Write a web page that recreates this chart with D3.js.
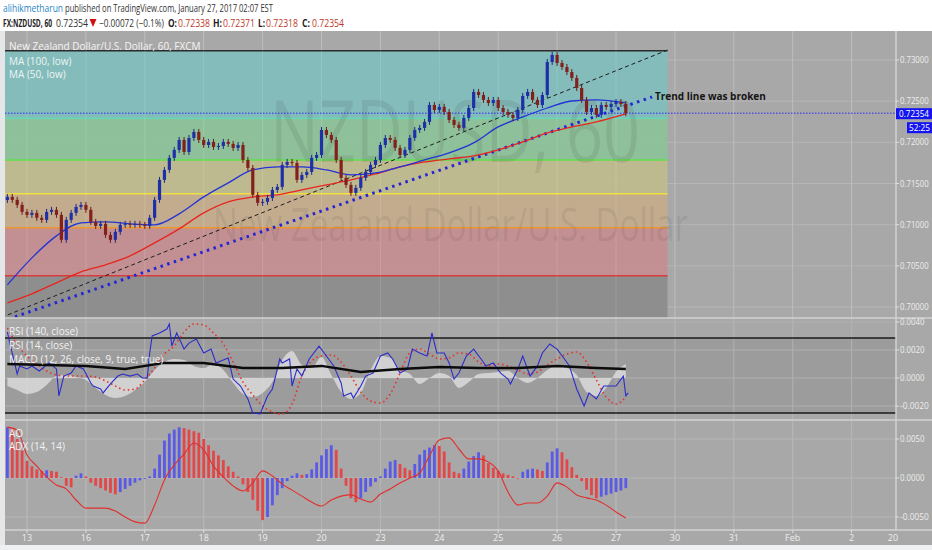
<!DOCTYPE html>
<html>
<head>
<meta charset="utf-8">
<script src="https://cdn.jsdelivr.net/npm/d3@7"></script>
<style>
  body { margin: 0; background: #fff; }
  svg { display: block; font-family: "Open Sans", sans-serif; }
</style>
</head>
<body>
<script>
// ---- data (2-hour closes, hour index = 2 * bar) ----
const firstOpen = 0.71300;
const closes = [
  0.71337, 0.71301, 0.71240, 0.71155, 0.71119, 0.71143, 0.71083, 0.71058, 0.71155, 0.71180,
  0.71119, 0.70816, 0.71058, 0.71143, 0.71216, 0.71240, 0.71180, 0.71034, 0.70985, 0.71010,
  0.70876, 0.70816, 0.70913, 0.70998, 0.71010, 0.70998, 0.71010, 0.70998, 0.70985, 0.71083,
  0.71301, 0.71544, 0.71665, 0.71811, 0.71908, 0.72029, 0.71883, 0.72053, 0.72126, 0.72029,
  0.71968, 0.72005, 0.71944, 0.71956, 0.72005, 0.71981, 0.71932, 0.71968, 0.71786, 0.71689,
  0.71362, 0.71265, 0.71277, 0.71325, 0.71422, 0.71459, 0.71726, 0.71762, 0.71750, 0.71544,
  0.71604, 0.71641, 0.71811, 0.71847, 0.72150, 0.72090, 0.72029, 0.71786, 0.71568, 0.71483,
  0.71386, 0.71447, 0.71568, 0.71641, 0.71726, 0.71786, 0.71968, 0.72053, 0.72029, 0.71932,
  0.71847, 0.71908, 0.72053, 0.72150, 0.72175, 0.72248, 0.72454, 0.72393, 0.72430, 0.72369,
  0.72272, 0.72211, 0.72175, 0.72296, 0.72417, 0.72612, 0.72575, 0.72515, 0.72478, 0.72515,
  0.72417, 0.72369, 0.72333, 0.72296, 0.72393, 0.72563, 0.72612, 0.72515, 0.72454, 0.72575,
  0.72976, 0.73061, 0.72964, 0.72915, 0.72854, 0.72782, 0.72660, 0.72515, 0.72369, 0.72417,
  0.72333, 0.72454, 0.72430, 0.72466, 0.72490, 0.72466, 0.72354
];

// moving averages, sampled at these bar numbers
const maBars = [0, 5, 10, 15, 20, 25, 30, 35, 40, 45, 50, 55, 60, 65, 70, 75, 80, 85, 90, 95, 100, 105, 110, 115, 120, 126];
const ma50 = [0.70269, 0.70597, 0.70864, 0.71022, 0.71034, 0.71010, 0.70998, 0.71131, 0.71337, 0.71507,
  0.71665, 0.71701, 0.71701, 0.71665, 0.71604, 0.71629, 0.71701, 0.71786, 0.71871, 0.71993,
  0.72187, 0.72308, 0.72417, 0.72502, 0.72515, 0.72478];
const ma100 = [0.70051, 0.70160, 0.70294, 0.70427, 0.70512, 0.70621, 0.70779, 0.70949, 0.71143, 0.71277,
  0.71337, 0.71362, 0.71422, 0.71483, 0.71544, 0.71616, 0.71701, 0.71762, 0.71799, 0.71835,
  0.71908, 0.72005, 0.72114, 0.72187, 0.72248, 0.72345];

// RSI(14): hour index and value
const rsiHours = [0, 1, 4, 5, 8, 10, 13, 17, 20, 21, 23, 26, 28, 31, 34, 35, 38, 39, 42, 45,
  47, 50, 53, 55, 57, 58, 59, 62, 65, 66, 67, 69, 72, 74, 77, 80, 83, 85, 90, 92,
  95, 98, 100, 103, 106, 108, 111, 112, 115, 116, 118, 120, 123, 127, 130, 133, 136, 137, 140, 141,
  144, 146, 149, 152, 155, 157, 160, 163, 165, 168, 171, 173, 175, 178, 180, 182, 184, 187, 190, 193,
  195, 198, 201, 204, 205, 208, 210, 213, 216, 218, 221, 224, 227, 229, 232, 235, 237, 240, 243, 246,
  248, 251, 252, 253];
const rsi14 = [73.2, 67.3, 50.8, 55.1, 53.5, 55.1, 52.4, 56.7, 53.5, 39.1, 49.7, 51.3, 55.1, 53.5, 46.0, 44.4, 42.8, 40.7, 45.5, 49.7,
  50.8, 49.7, 50.8, 48.7, 48.7, 62.0, 71.1, 72.7, 74.8, 77.5, 65.7, 72.7, 64.1, 67.3, 69.5, 62.0, 64.1, 56.7, 59.3, 48.1,
  44.4, 37.5, 30.0, 29.5, 39.1, 42.8, 58.8, 56.7, 58.8, 44.4, 53.5, 49.7, 58.8, 65.7, 60.4, 55.1, 46.0, 39.1, 40.7, 38.0,
  44.4, 49.7, 51.3, 60.4, 62.0, 58.8, 51.3, 53.5, 64.1, 62.0, 60.4, 72.7, 62.0, 62.0, 56.7, 48.1, 51.3, 60.4, 64.1, 58.8,
  55.1, 56.7, 51.3, 48.1, 45.5, 53.5, 60.4, 49.7, 55.1, 62.0, 66.8, 64.1, 58.8, 55.1, 42.8, 33.7, 40.7, 37.5, 44.4, 44.4,
  44.4, 49.7, 39.1, 40.7];

// 4-hourly MACD / ADX samples (hour = 4 * k)
const macdHist = [-0.00057, -0.00086, -0.00114, -0.00100, -0.00050, 0.00014, 0.00021, 0.00007, -0.00014, -0.00071,
  -0.00121, -0.00143, -0.00129, -0.00086, -0.00029, 0.00057, 0.00114, 0.00136, 0.00129, 0.00086,
  0.00071, 0.00100, 0.00057, -0.00036, -0.00114, -0.00136, -0.00107, -0.00029, 0.00129, 0.00193,
  0.00093, 0.00071, 0.00150, 0.00021, -0.00100, -0.00150, -0.00107, 0.00057, 0.00157, 0.00143,
  0.00057, 0.00029, -0.00043, 0.00000, 0.00036, 0.00014, -0.00071, -0.00029, 0.00029, 0.00036,
  0.00043, 0.00050, 0.00000, -0.00036, 0.00000, 0.00057, 0.00086, 0.00071, 0.00021, -0.00100,
  -0.00129, -0.00071, 0.00043, 0.00100];
const macdSignal = [0.00357, 0.00236, 0.00157, 0.00100, 0.00050, 0.00021, 0.00014, 0.00014, 0.00014, 0.00007,
  -0.00021, -0.00057, -0.00086, -0.00079, -0.00014, 0.00071, 0.00171, 0.00229, 0.00329, 0.00386,
  0.00379, 0.00321, 0.00243, 0.00114, -0.00029, -0.00121, -0.00200, -0.00243, -0.00257, -0.00186,
  0.00014, 0.00121, 0.00157, 0.00164, 0.00114, 0.00014, -0.00100, -0.00164, -0.00179, -0.00114,
  0.00036, 0.00179, 0.00207, 0.00171, 0.00136, 0.00143, 0.00179, 0.00171, 0.00114, 0.00086,
  0.00100, 0.00086, 0.00057, 0.00029, 0.00043, 0.00093, 0.00136, 0.00171, 0.00186, 0.00114,
  -0.00014, -0.00136, -0.00186, -0.00136];
const adx = [44.3, 43.3, 35.0, 31.3, 27.7, 25.0, 23.7, 20.0, 17.3, 17.3,
  17.3, 16.3, 14.3, 12.7, 12.3, 18.3, 26.7, 31.7, 35.3, 39.0,
  36.7, 31.3, 27.7, 24.7, 23.0, 25.7, 29.7, 28.0, 25.3, 23.3,
  21.3, 19.3, 18.0, 20.0, 21.3, 21.7, 20.3, 19.3, 22.0, 23.7,
  25.7, 27.3, 29.0, 34.7, 40.0, 40.7, 37.0, 33.7, 33.7, 32.7,
  29.7, 22.7, 18.3, 19.0, 19.0, 21.3, 25.7, 24.3, 21.7, 20.7,
  20.0, 18.3, 16.0, 14.0];

// RSI(140) at 16-hour steps
const rsi140Hours = [0, 16, 32, 48, 64, 80, 96, 112, 128, 144, 160, 176, 192, 208, 224, 240, 252];
const rsi140 = [56.1, 55.6, 55.1, 53.5, 56.7, 56.7, 54.0, 54.0, 55.1, 51.9, 53.5, 54.5, 54.0, 54.0, 55.1, 54.0, 53.5];

// awesome oscillator, one value per 2-hour bar
const ao = [
  0.0065, 0.0063, 0.0050, 0.0035, 0.0022, 0.0015, 0.0011, 0.0009, 0.0010, 0.0009,
  0.0008, 0.0001, -0.0010, -0.0012, 0.0003, 0.0006, 0.0002, -0.0006, -0.0010, -0.0013,
  -0.0016, -0.0019, -0.0021, -0.0018, -0.0014, -0.0010, -0.0006, -0.0003, -0.0001, 0.0002,
  0.0012, 0.0030, 0.0048, 0.0057, 0.0062, 0.0065, 0.0064, 0.0062, 0.0060, 0.0058,
  0.0050, 0.0042, 0.0035, 0.0029, 0.0023, 0.0015, 0.0008, 0.0002, -0.0008, -0.0018,
  -0.0028, -0.0042, -0.0054, -0.0050, -0.0035, -0.0022, -0.0013, -0.0004, 0.0003, 0.0006,
  0.0004, 0.0005, 0.0011, 0.0020, 0.0029, 0.0037, 0.0042, 0.0036, 0.0012, -0.0010,
  -0.0026, -0.0031, -0.0026, -0.0018, -0.0011, -0.0005, 0.0002, 0.0012, 0.0021, 0.0023,
  0.0018, 0.0013, 0.0010, 0.0018, 0.0030, 0.0036, 0.0039, 0.0042, 0.0041, 0.0034,
  0.0020, 0.0008, 0.0006, 0.0012, 0.0021, 0.0028, 0.0033, 0.0029, 0.0019, 0.0013,
  0.0009, 0.0006, 0.0004, 0.0002, 0.0000, 0.0008, 0.0011, 0.0012, 0.0011, 0.0009,
  0.0020, 0.0034, 0.0038, 0.0033, 0.0024, 0.0014, 0.0004, -0.0004, -0.0015, -0.0022,
  -0.0026, -0.0024, -0.0022, -0.0020, -0.0018, -0.0016, -0.0013
];

// fibonacci retracement (0 at top)
const fibHigh = 0.73113, fibLow = 0.69635;
const fibHours = [-1, 269];
const fibLevels = [0, 0.236, 0.382, 0.5, 0.618, 0.786, 1];
const fibLineColors = ['#2b2b2b', '#66d8b4', '#5ee04a', '#f2e040', '#f0952e', '#d83c3c', '#777'];
const fibBandColors = ['#80bebc', '#8cc398', '#c0bc8e', '#c6ad8c', '#c48e90', '#8c8c8c'];

// drawn trend lines [hour, price]
const trendDashed = [[0.2, 0.69905], [269, 0.73121]];
const trendDotted = [[3.1, 0.69881], [262.7, 0.72551]];
const trendNote = 'Trend line was broken';

const lastPrice = 0.72354;
const countdown = '52:25';

// axes
const dayLabels = ['13', '16', '17', '18', '19', '20', '23', '24', '25', '26', '27', '30', '31', 'Feb', '2'];
const dayHours = [8, 32, 56, 80, 104, 128, 152, 176, 200, 224, 248, 272, 296, 320, 344];
const priceTicks = [0.730, 0.725, 0.720, 0.715, 0.710, 0.705, 0.700];
const macdTicks = [0.004, 0.002, 0, -0.002];
const aoTicks = [0.005, 0, -0.005];

// ---- layout ----
const W = 932, H = 550;
const L = 5, R = 896;
const mainTop = 31, mainBot = 318, p1Bot = 420, p2Bot = 530, axisBot = 545;

const x = d3.scaleLinear().domain([8, 248]).range([27, 616]);
const yP = d3.scaleLinear().domain([0.700, 0.730]).range([307, 60]);
const yMacd = d3.scaleLinear().domain([-0.002, 0.004]).range([406, 322]);
const yRsi = d3.scaleLinear().domain([30, 70]).range([413, 338]);
const yAo = d3.scaleLinear().domain([-0.005, 0.005]).range([517, 439]);
const yAdx = d3.scaleLinear().domain([0, 50]).range([560, 410]);

const svg = d3.select('body').append('svg').attr('width', W).attr('height', H);

svg.append('rect').attr('x', 0).attr('y', mainTop).attr('width', W).attr('height', axisBot - mainTop).attr('fill', '#a8a8a8');
svg.append('rect').attr('x', 0).attr('y', mainTop).attr('width', L).attr('height', axisBot - mainTop).attr('fill', '#e4e6e8');
svg.append('rect').attr('x', 0).attr('y', axisBot).attr('width', W).attr('height', H - axisBot).attr('fill', '#eef0f2');

const defs = svg.append('defs');
[['cMain', mainTop, mainBot], ['cP1', mainBot, p1Bot], ['cP2', p1Bot, p2Bot]].forEach(([id, t, b]) => {
  defs.append('clipPath').attr('id', id).append('rect')
    .attr('x', L).attr('y', t).attr('width', R - L).attr('height', b - t);
});

// ---- header ----
const head = svg.append('g').attr('font-size', 10.5);
const headSegs = [
  ['alihikmetharun', 3, 63, 12, '#2a86c8', 'normal'],
  ['published on TradingView.com, January 27, 2017 02:07 EST', 65, 273, 12, '#333', 'normal'],
  ['FX:NZDUSD, 60', 3, 52, 27, '#222', 'bold'],
  ['0.72354', 56, 88, 27, '#333', 'normal'],
  ['−0.00072 (−0.1%)', 99, 164, 27, '#333', 'normal'],
  ['O:', 168, 177, 27, '#222', 'bold'],
  ['0.72338', 178, 210, 27, '#c0392b', 'normal'],
  ['H:', 213, 222, 27, '#222', 'bold'],
  ['0.72371', 223, 255, 27, '#c0392b', 'normal'],
  ['L:', 258, 265, 27, '#222', 'bold'],
  ['0.72318', 266, 298, 27, '#c0392b', 'normal'],
  ['C:', 302, 310, 27, '#222', 'bold'],
  ['0.72354', 312, 344, 27, '#c0392b', 'normal']
];
head.selectAll('text').data(headSegs).enter().append('text')
  .attr('x', d => d[1]).attr('y', d => d[3])
  .attr('textLength', d => d[2] - d[1]).attr('lengthAdjust', 'spacingAndGlyphs')
  .attr('fill', d => d[4]).attr('font-weight', d => d[5])
  .text(d => d[0]);
head.append('path').attr('d', 'M89.5,19 L96.5,19 L93,27 Z').attr('fill', '#d01010');

// ---- grids ----
const grid = svg.append('g').attr('stroke', '#b6b6b6').attr('stroke-width', 1);
grid.selectAll('line.v').data(dayHours).enter().append('line')
  .attr('x1', d => x(d)).attr('x2', d => x(d)).attr('y1', mainTop).attr('y2', p2Bot);

// ---- main panel ----
const main = svg.append('g').attr('clip-path', 'url(#cMain)');
main.selectAll('line.h').data(priceTicks).enter().append('line')
  .attr('x1', L).attr('x2', R).attr('y1', d => yP(d)).attr('y2', d => yP(d))
  .attr('stroke', '#b6b6b6');

const fibPrice = lv => fibHigh - lv * (fibHigh - fibLow);
const fx0 = x(fibHours[0]), fx1 = x(fibHours[1]);
const fib = main.append('g');
fibBandColors.forEach((c, i) => {
  const a = yP(fibPrice(fibLevels[i])), b = yP(fibPrice(fibLevels[i + 1]));
  fib.append('rect').attr('x', fx0).attr('width', fx1 - fx0).attr('y', a).attr('height', b - a)
    .attr('fill', c).attr('opacity', 0.92);
});
fibLevels.forEach((lv, i) => {
  fib.append('line').attr('x1', fx0).attr('x2', fx1)
    .attr('y1', yP(fibPrice(lv))).attr('y2', yP(fibPrice(lv)))
    .attr('stroke', fibLineColors[i]).attr('stroke-width', 1.5);
});
main.selectAll('line.vg').data(dayHours).enter().append('line')
  .attr('x1', d => x(d)).attr('x2', d => x(d)).attr('y1', mainTop).attr('y2', mainBot)
  .attr('stroke', '#ffffff').attr('stroke-opacity', 0.12);

// watermark
main.append('text').attr('x', 270).attr('y', 162).attr('font-size', 86)
  .attr('textLength', 370).attr('lengthAdjust', 'spacingAndGlyphs')
  .attr('fill', '#3a3a3a').attr('fill-opacity', 0.11).text('NZDUSD, 60');
main.append('text').attr('x', 213).attr('y', 241).attr('font-size', 46)
  .attr('textLength', 475).attr('lengthAdjust', 'spacingAndGlyphs')
  .attr('fill', '#3a3a3a').attr('fill-opacity', 0.11).text('New Zealand Dollar/U.S. Dollar');

// last price line
main.append('line').attr('x1', L).attr('x2', R).attr('y1', yP(lastPrice)).attr('y2', yP(lastPrice))
  .attr('stroke', '#2a2af0').attr('stroke-width', 1).attr('stroke-dasharray', '1.5 1.5');

// trend lines
const tl = d3.line().x(d => x(d[0])).y(d => yP(d[1]));
main.append('path').attr('d', tl(trendDashed)).attr('fill', 'none')
  .attr('stroke', '#1e1e1e').attr('stroke-width', 1).attr('stroke-dasharray', '4 3');
main.append('path').attr('d', tl(trendDotted)).attr('fill', 'none')
  .attr('stroke', '#2424d8').attr('stroke-width', 3).attr('stroke-dasharray', '2.5 4.5');

// moving averages
const maLine = vals => d3.line().curve(d3.curveMonotoneX)
  .x((d, i) => x(maBars[i] * 2)).y(d => yP(d))(vals);
main.append('path').attr('d', maLine(ma100)).attr('fill', 'none').attr('stroke', '#e8261e').attr('stroke-width', 1.3);
main.append('path').attr('d', maLine(ma50)).attr('fill', 'none').attr('stroke', '#2433d6').attr('stroke-width', 1.3);

// candles
const bars = closes.map((c, i) => ({ h: i * 2, o: i === 0 ? firstOpen : closes[i - 1], c }));
const cg = main.append('g');
cg.selectAll('line').data(bars).enter().append('line')
  .attr('x1', d => x(d.h)).attr('x2', d => x(d.h))
  .attr('y1', d => yP(Math.max(d.o, d.c)) - 3).attr('y2', d => yP(Math.min(d.o, d.c)) + 3)
  .attr('stroke', d => d.c >= d.o ? '#1a2a8a' : '#6e1a1a');
cg.selectAll('rect').data(bars).enter().append('rect')
  .attr('x', d => x(d.h) - 1.6).attr('width', 3.2)
  .attr('y', d => yP(Math.max(d.o, d.c)))
  .attr('height', d => Math.max(1, Math.abs(yP(d.o) - yP(d.c))))
  .attr('fill', d => d.c >= d.o ? '#1f2fa8' : '#84201c');

svg.append('text').attr('x', 655).attr('y', 100).attr('font-size', 10).attr('font-weight', 'bold')
  .attr('fill', '#151515').text(trendNote);

const legMain = svg.append('g').attr('font-size', 10).attr('fill', '#eef4f4');
legMain.append('text').attr('x', 9).attr('y', 50).attr('fill', '#f4f4f4').text('New Zealand Dollar/U.S. Dollar, 60, FXCM');
legMain.append('text').attr('x', 9).attr('y', 65).text('MA (100, low)');
legMain.append('text').attr('x', 9).attr('y', 78).text('MA (50, low)');

// ---- panel 1 : RSI + MACD ----
const p1 = svg.append('g').attr('clip-path', 'url(#cP1)');
p1.append('rect').attr('x', L).attr('width', R - L).attr('y', yRsi(70)).attr('height', yRsi(30) - yRsi(70))
  .attr('fill', '#9c9c9c');
p1.selectAll('line.g').data(macdTicks).enter().append('line')
  .attr('x1', L).attr('x2', R).attr('y1', d => yMacd(d)).attr('y2', d => yMacd(d))
  .attr('stroke', '#b0b0b0');
p1.selectAll('line.v').data(dayHours).enter().append('line')
  .attr('x1', d => x(d)).attr('x2', d => x(d)).attr('y1', mainBot).attr('y2', p1Bot)
  .attr('stroke', '#b2b2b2');
[70, 30].forEach(v => p1.append('line').attr('x1', L).attr('x2', R)
  .attr('y1', yRsi(v)).attr('y2', yRsi(v)).attr('stroke', '#1a1a1a').attr('stroke-width', 1.5));
p1.append('path')
  .attr('d', d3.area().curve(d3.curveMonotoneX).x((d, i) => x(i * 4)).y0(yMacd(0)).y1(d => yMacd(d))(macdHist))
  .attr('fill', '#dadada').attr('opacity', 0.85);
p1.append('path')
  .attr('d', d3.line().curve(d3.curveMonotoneX).x((d, i) => x(i * 4)).y(d => yMacd(d))(macdSignal))
  .attr('fill', 'none').attr('stroke', '#e8302a').attr('stroke-width', 1.6).attr('stroke-dasharray', '1.5 3');
p1.append('path')
  .attr('d', d3.line().x((d, i) => x(rsiHours[i])).y(d => yRsi(d))(rsi14))
  .attr('fill', 'none').attr('stroke', '#2c2ccc').attr('stroke-width', 1.1);
p1.append('path')
  .attr('d', d3.line().x((d, i) => x(rsi140Hours[i])).y(d => yRsi(d))(rsi140))
  .attr('fill', 'none').attr('stroke', '#0c0c0c').attr('stroke-width', 2.4);
const leg1 = svg.append('g').attr('font-size', 10).attr('fill', '#f2f2f2');
['RSI (140, close)', 'RSI (14, close)', 'MACD (12, 26, close, 9, true, true)'].forEach((t, i) =>
  leg1.append('text').attr('x', 9).attr('y', 335 + i * 14).text(t));

// ---- panel 2 : AO + ADX ----
const p2 = svg.append('g').attr('clip-path', 'url(#cP2)');
p2.selectAll('line.g').data(aoTicks).enter().append('line')
  .attr('x1', L).attr('x2', R).attr('y1', d => yAo(d)).attr('y2', d => yAo(d))
  .attr('stroke', '#b6b6b6');
p2.selectAll('line.v').data(dayHours).enter().append('line')
  .attr('x1', d => x(d)).attr('x2', d => x(d)).attr('y1', p1Bot).attr('y2', p2Bot)
  .attr('stroke', '#b6b6b6');
p2.selectAll('rect').data(ao).enter().append('rect')
  .attr('x', (d, i) => x(i * 2) - 1.4).attr('width', 2.8)
  .attr('y', d => Math.min(yAo(d), yAo(0)))
  .attr('height', d => Math.max(0.6, Math.abs(yAo(d) - yAo(0))))
  .attr('fill', (d, i) => (i > 0 && d < ao[i - 1]) ? '#e2484a' : '#5a5ae6');
p2.append('path')
  .attr('d', d3.line().curve(d3.curveMonotoneX).x((d, i) => x(i * 4)).y(d => yAdx(d))(adx))
  .attr('fill', 'none').attr('stroke', '#e0302e').attr('stroke-width', 1.1);
const leg2 = svg.append('g').attr('font-size', 10).attr('fill', '#f2f2f2');
['AO', 'ADX (14, 14)'].forEach((t, i) => leg2.append('text').attr('x', 9).attr('y', 437 + i * 13).text(t));

// ---- separators & right axis ----
const sep = svg.append('g').attr('stroke', '#d2d2d2').attr('stroke-width', 1.5);
[mainBot, p1Bot, p2Bot].forEach(y => sep.append('line').attr('x1', L).attr('x2', W).attr('y1', y).attr('y2', y));
sep.append('line').attr('x1', R).attr('x2', R).attr('y1', mainTop).attr('y2', p2Bot);

const ax = svg.append('g').attr('font-size', 9).attr('fill', '#eeeeee');
const tickRow = (vals, scale, fmt) => vals.forEach(v => {
  const s = fmt(v);
  ax.append('line').attr('x1', R).attr('x2', R + 3).attr('y1', scale(v)).attr('y2', scale(v)).attr('stroke', '#dedede');
  ax.append('text').attr('x', R + 4).attr('y', scale(v) + 3)
    .attr('textLength', s.length * 4.1).attr('lengthAdjust', 'spacingAndGlyphs').text(s);
});
const minus = f => v => f(v).replace('−', '-');
tickRow(priceTicks, yP, d3.format('.5f'));
tickRow(macdTicks, yMacd, minus(d3.format('.4f')));
tickRow(aoTicks, yAo, minus(d3.format('.4f')));

// last price tag and countdown
ax.append('rect').attr('x', R).attr('y', yP(lastPrice) - 5).attr('width', W - R).attr('height', 11).attr('fill', '#1414f0');
ax.append('text').attr('x', R + 3).attr('y', yP(lastPrice) + 3.5).attr('fill', '#fff')
  .attr('textLength', 30).attr('lengthAdjust', 'spacingAndGlyphs').text(d3.format('.5f')(lastPrice));
ax.append('rect').attr('x', 907).attr('y', yP(lastPrice) + 9).attr('width', W - 907).attr('height', 11).attr('fill', '#1414f0');
ax.append('text').attr('x', 909).attr('y', yP(lastPrice) + 17.5).attr('fill', '#fff')
  .attr('textLength', 21).attr('lengthAdjust', 'spacingAndGlyphs').text(countdown);

// time axis
ax.selectAll('text.day').data(dayLabels).enter().append('text')
  .attr('x', (d, i) => x(dayHours[i])).attr('y', 541).attr('text-anchor', 'middle').text(d => d);
ax.selectAll('line.day').data(dayHours).enter().append('line')
  .attr('x1', d => x(d)).attr('x2', d => x(d)).attr('y1', p2Bot).attr('y2', p2Bot + 3).attr('stroke', '#dedede');
ax.append('text').attr('x', 893).attr('y', 541).attr('text-anchor', 'middle').text('20');
</script>
</body>
</html>
